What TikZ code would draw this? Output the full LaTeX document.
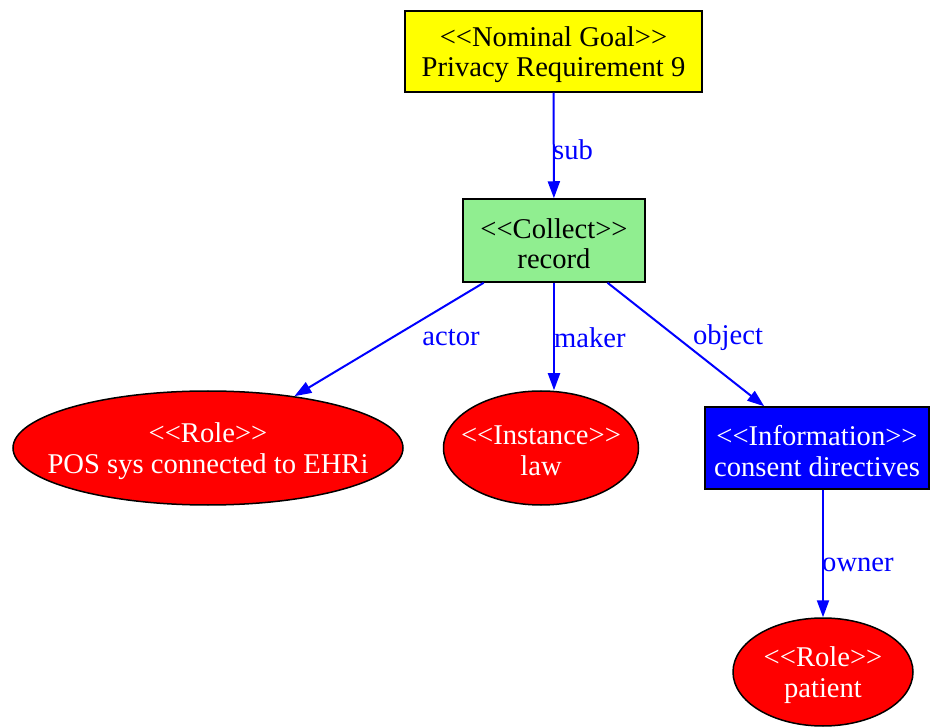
\documentclass[tikz,border=0pt]{standalone}
\usepackage{fontspec}
\setmainfont{Liberation Serif}
\usetikzlibrary{shapes.geometric,arrows.meta}

\definecolor{goalyellow}{RGB}{255,255,0}
\definecolor{actgreen}{RGB}{144,238,144}
\definecolor{infoblue}{RGB}{0,0,255}
\definecolor{rolered}{RGB}{255,0,0}
\definecolor{edgeblue}{RGB}{0,0,255}

\tikzset{
  txt/.style={font=\fontsize{28.6}{30.5}\selectfont, align=center, inner sep=0pt},
  shapetext/.style={txt, yshift=-3pt},
  boxnode/.style={draw=black, line width=1.5pt, rectangle, inner sep=0pt},
  ovalnode/.style={draw=black, line width=1.5pt, ellipse, fill=rolered, inner sep=0pt},
  rel/.style={draw=edgeblue, line width=2pt, -{Triangle[length=17pt,width=12pt]}},
  rellabel/.style={txt, text=edgeblue},
}

\begin{document}
\begin{tikzpicture}[x=1pt,y=-1pt]
  \useasboundingbox[fill=white] (0,0) rectangle (930,727);

  % goal and its sub-activity
  \node[boxnode, fill=goalyellow, minimum width=297pt, minimum height=81pt] (goal) at (553.5,51.5) {};
  \node[shapetext] (goaltext) at (goal.center) {<{}<Nominal Goal>{}>\\Privacy Requirement 9};

  \node[boxnode, fill=actgreen, minimum width=182pt, minimum height=83pt] (collect) at (554,240.5) {};
  \node[shapetext] (collecttext) at (collect.center) {<{}<Collect>{}>\\record};

  % participants of the activity
  \node[ovalnode, minimum width=390pt, minimum height=114pt] (pos) at (208,448) {};
  \node[shapetext, text=white] (postext) at (pos.center) {<{}<Role>{}>\\POS sys connected to EHRi};

  \node[ovalnode, minimum width=195pt, minimum height=114pt] (law) at (541,448) {};
  \node[shapetext, text=white] (lawtext) at (law.center) {<{}<Instance>{}>\\law};

  \node[boxnode, fill=infoblue, minimum width=224pt, minimum height=82pt] (info) at (817,448) {};
  \node[shapetext, text=white] (infotext) at (info.center) {<{}<Information>{}>\\consent directives};

  \node[ovalnode, minimum width=180pt, minimum height=108pt] (patient) at (823,672) {};
  \node[shapetext, text=white] (patienttext) at (patient.center) {<{}<Role>{}>\\patient};

  % relations
  \draw[rel] (goal) -- (collect);
  \draw[rel] (collect) -- (pos);
  \draw[rel] (collect.south) -- (collect.south |- law.north);
  \draw[rel] (collect) -- (info);
  \draw[rel] (info.south -| patient.north) -- (patient.north);

  % relation labels
  \node[rellabel, anchor=west] (lsub) at (553,150) {sub};
  \node[rellabel] (lactor) at (451,338) {actor};
  \node[rellabel, anchor=west] (lmaker) at (554,338) {maker};
  \node[rellabel] (lobject) at (728,338) {object};
  \node[rellabel, anchor=west] (lowner) at (822,565) {owner};
\end{tikzpicture}
\end{document}
